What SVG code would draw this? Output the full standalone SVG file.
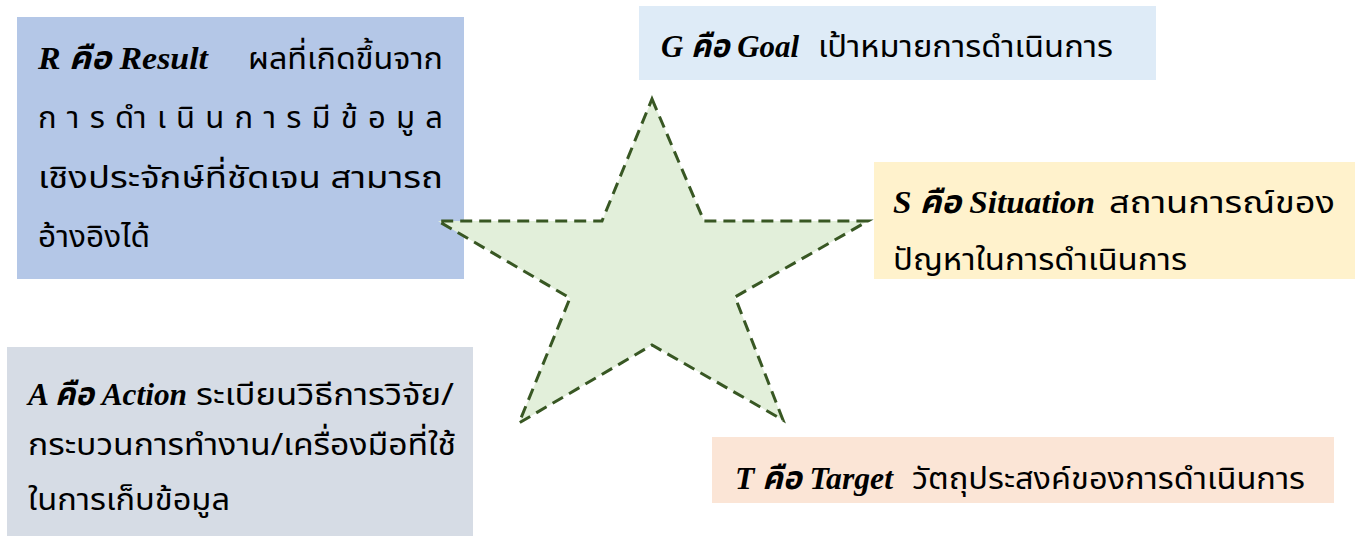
<svg xmlns="http://www.w3.org/2000/svg" width="1362" height="536" viewBox="0 0 1362 536">
<style>
.en{font-family:"Liberation Serif","Noto Sans Thai","Noto Sans",serif;font-weight:bold;font-style:italic;font-size:32px;fill:#000}
.th{font-family:"Noto Sans Thai","Noto Sans","DejaVu Sans",sans-serif;font-size:31px;fill:#000}
.star{fill:#e2efda;stroke:#385723;stroke-width:3;stroke-dasharray:12 7;stroke-linejoin:miter}
</style>
<rect width="1362" height="536" fill="#ffffff"/>
<g id="node-R">
<rect x="17" y="17" width="447" height="262" fill="#b4c7e7"/>
<text class="en" x="38" y="69" textLength="170" lengthAdjust="spacingAndGlyphs">R  คือ Result</text>
<text class="th" x="248" y="69" textLength="195" lengthAdjust="spacingAndGlyphs">ผลที่เกิดขึ้นจาก</text>
<text class="th" x="38" y="128" textLength="405" lengthAdjust="spacing">การดำเนินการมีข้อมูล</text>
<text class="th" x="38" y="188" textLength="405" lengthAdjust="spacingAndGlyphs">เชิงประจักษ์ที่ชัดเจน สามารถ</text>
<text class="th" x="38" y="247" textLength="112" lengthAdjust="spacingAndGlyphs">อ้างอิงได้</text>
</g>
<g id="node-G">
<rect x="639" y="6" width="517" height="74" fill="#deebf7"/>
<text class="en" x="661" y="57" textLength="138" lengthAdjust="spacingAndGlyphs">G คือ Goal</text>
<text class="th" x="818" y="57" textLength="295" lengthAdjust="spacingAndGlyphs">เป้าหมายการดำเนินการ</text>
</g>
<g id="node-S">
<rect x="874" y="162" width="481" height="117" fill="#fff2cc"/>
<text class="en" x="893" y="213" textLength="202" lengthAdjust="spacingAndGlyphs">S คือ Situation</text>
<text class="th" x="1109" y="213" textLength="226" lengthAdjust="spacingAndGlyphs">สถานการณ์ของ</text>
<text class="th" x="893" y="270" textLength="294" lengthAdjust="spacingAndGlyphs">ปัญหาในการดำเนินการ</text>
</g>
<g id="node-A">
<rect x="7" y="347" width="466" height="189" fill="#d6dce5"/>
<text class="en" x="28" y="405" textLength="159" lengthAdjust="spacingAndGlyphs">A คือ Action</text>
<text class="th" x="196" y="405" textLength="258" lengthAdjust="spacingAndGlyphs">ระเบียนวิธีการวิจัย/</text>
<text class="th" x="28" y="455" textLength="428" lengthAdjust="spacingAndGlyphs">กระบวนการทำงาน/เครื่องมือที่ใช้</text>
<text class="th" x="28" y="510" textLength="202" lengthAdjust="spacingAndGlyphs">ในการเก็บข้อมูล</text>
</g>
<g id="node-T">
<rect x="712" y="437" width="622" height="66" fill="#fbe5d6"/>
<text class="en" x="735" y="489" textLength="158" lengthAdjust="spacingAndGlyphs">T คือ Target</text>
<text class="th" x="912" y="489" textLength="393" lengthAdjust="spacingAndGlyphs">วัตถุประสงค์ของการดำเนินการ</text>
</g>
<g id="node-star">
<polygon class="star" points="652,99 704,221 868,221 735,297 783,420 652,345 519,423 570,298 438,221 602,221"/>
</g>
<g id="connectors"/>
</svg>
